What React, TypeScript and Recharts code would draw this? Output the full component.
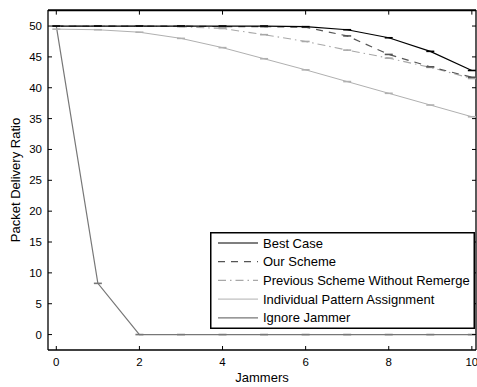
import { LineChart, Line, XAxis, YAxis, Legend, ReferenceLine, CartesianGrid } from 'recharts';

// values
const jammers = [0, 1, 2, 3, 4, 5, 6, 7, 8, 9, 10];
const bestCase = [50, 50, 50, 50, 50, 50, 49.9, 49.4, 48.1, 45.9, 42.8];
const ourScheme = [50, 50, 50, 50, 49.9, 49.9, 49.8, 48.4, 45.4, 43.4, 41.7];
const previousScheme = [50, 50, 50, 49.9, 49.6, 48.6, 47.5, 46.1, 44.8, 43.3, 41.5];
const individualPattern = [49.5, 49.4, 49.0, 48.0, 46.5, 44.7, 42.9, 41.0, 39.1, 37.2, 35.3];
const ignoreJammer = [50, 8.3, 0, 0, 0, 0, 0, 0, 0, 0, 0];

const xTicks = [0, 2, 4, 6, 8, 10];
const yTicks = [0, 5, 10, 15, 20, 25, 30, 35, 40, 45, 50];

const data = jammers.map((j, i) => ({
  j,
  best: bestCase[i],
  ours: ourScheme[i],
  prev: previousScheme[i],
  indiv: individualPattern[i],
  ignore: ignoreJammer[i],
}));

const FONT = '"Liberation Sans", Arial, Helvetica, sans-serif';
const X_DOMAIN: [number, number] = [-0.2, 10.1];
const Y_DOMAIN: [number, number] = [-2.5, 52.6];
const FRAME_TOP = 52.5; // just inside the domain so it is not dropped
const TOP_TICK_LEN = 0.65; // in y units, about 4px

const series = [
  { key: 'best', name: 'Best Case', color: '#000', dash: undefined as string | undefined, w: 1.2 },
  { key: 'ours', name: 'Our Scheme', color: '#555', dash: '7 6', w: 1.2 },
  { key: 'prev', name: 'Previous Scheme Without Remerge', color: '#a8a8a8', dash: '8 4 1.5 4', w: 1.1 },
  { key: 'indiv', name: 'Individual Pattern Assignment', color: '#b0b0b0', dash: undefined, w: 1 },
  { key: 'ignore', name: 'Ignore Jammer', color: '#777', dash: undefined, w: 1.2 },
];

const Cap = (color: string) => (p: any) => (
  <line key={p.index} x1={p.cx - 4} x2={p.cx + 4} y1={p.cy} y2={p.cy} stroke={color} strokeWidth={1.6} />
);

// axis ticks point into the plot, like the matlab frame
const LeftTick = (p: any) => (
  <g>
    <line x1={p.x + 6} x2={p.x + 10} y1={p.y} y2={p.y} stroke="#000" />
    <text x={p.x} y={p.y} textAnchor="end" dominantBaseline="central" fontSize={11.5} fontFamily={FONT} fill="#000">
      {p.payload.value}
    </text>
  </g>
);
const RightTick = (p: any) => <line x1={p.x} x2={p.x - 4} y1={p.y} y2={p.y} stroke="#000" />;
const BottomTick = (p: any) => (
  <g>
    <line x1={p.x} x2={p.x} y1={p.y - 7} y2={p.y - 11} stroke="#000" />
    <text x={p.x} y={p.y} dy="0.75em" textAnchor="middle" fontSize={11.5} fontFamily={FONT} fill="#000">
      {p.payload.value}
    </text>
  </g>
);

const renderLegend = () => (
  <svg width={265} height={97} style={{ display: 'block' }}>
    <rect x={0.75} y={0.75} width={263.5} height={95.5} fill="#fff" stroke="#000" strokeWidth={1.5} />
    {series.map((s, i) => {
      const cy = 11 + i * 18.7;
      return (
        <g key={s.key}>
          <line x1={8} x2={48} y1={cy} y2={cy} stroke={s.color} strokeWidth={s.w} strokeDasharray={s.dash} />
          <text x={53} y={cy} dominantBaseline="central" fontSize={13} fontFamily={FONT} fill="#000">
            {s.name}
          </text>
        </g>
      );
    })}
  </svg>
);

export default function App() {
  return (
    <div style={{ position: 'absolute', left: 0, top: 0, width: 477, height: 387, overflow: 'hidden', background: '#fff' }}>
      <LineChart width={485} height={387} data={data} margin={{ top: 10, right: 0, left: 0, bottom: 0 }}>
        {/* top edge of the frame */}
        <CartesianGrid vertical={false} horizontalValues={[Y_DOMAIN[1]]} stroke="#000" strokeWidth={1.3} />
        <XAxis
          dataKey="j"
          type="number"
          domain={X_DOMAIN}
          ticks={xTicks}
          allowDataOverflow
          height={37}
          tickSize={0}
          tickMargin={7}
          tickLine={false}
          axisLine={{ stroke: '#000', strokeWidth: 1.3 }}
          tick={BottomTick}
          label={(p: any) => {
            const vb = p.viewBox;
            return (
              <text x={vb.x + vb.width / 2} y={377} textAnchor="middle" dominantBaseline="central" fontSize={13} fontFamily={FONT} fill="#000">
                Jammers
              </text>
            );
          }}
        />
        <YAxis
          type="number"
          domain={Y_DOMAIN}
          ticks={yTicks}
          allowDataOverflow
          width={48}
          tickSize={0}
          tickMargin={6}
          tickLine={false}
          axisLine={{ stroke: '#000', strokeWidth: 1.3 }}
          tick={LeftTick}
          label={(p: any) => {
            const vb = p.viewBox;
            const cy = vb.y + vb.height / 2;
            return (
              <text x={15} y={cy} transform={`rotate(-90, 15, ${cy})`} textAnchor="middle" dominantBaseline="central" fontSize={13} fontFamily={FONT} fill="#000">
                Packet Delivery Ratio
              </text>
            );
          }}
        />
        <YAxis
          yAxisId="r"
          orientation="right"
          type="number"
          domain={Y_DOMAIN}
          ticks={yTicks}
          allowDataOverflow
          width={9}
          tickSize={0}
          tickMargin={0}
          tickLine={false}
          axisLine={{ stroke: '#000', strokeWidth: 1.3 }}
          tick={RightTick}
        />
        {/* invisible series so the right frame axis gets drawn */}
        <Line
          yAxisId="r"
          dataKey="best"
          stroke="none"
          dot={false}
          activeDot={false}
          legendType="none"
          isAnimationActive={false}
        />
        {/* fallback top edge and its inward ticks */}
        <ReferenceLine y={FRAME_TOP} ifOverflow="visible" stroke="#000" strokeWidth={1.3} />
        {xTicks.map((t) => (
          <ReferenceLine
            key={`tt${t}`}
            segment={[{ x: t, y: FRAME_TOP }, { x: t, y: FRAME_TOP - TOP_TICK_LEN }]}
            ifOverflow="visible"
            stroke="#000"
          />
        ))}
        {[...series].reverse().map((s) => (
          <Line
            key={s.key}
            dataKey={s.key}
            name={s.name}
            type="linear"
            stroke={s.color}
            strokeWidth={s.w}
            strokeDasharray={s.dash}
            dot={Cap(s.color)}
            activeDot={false}
            isAnimationActive={false}
          />
        ))}
        <Legend
          layout="vertical"
          align="center"
          verticalAlign="middle"
          content={renderLegend}
          wrapperStyle={{ left: 210, top: 232, width: 265, height: 97 }}
        />
      </LineChart>
    </div>
  );
}
